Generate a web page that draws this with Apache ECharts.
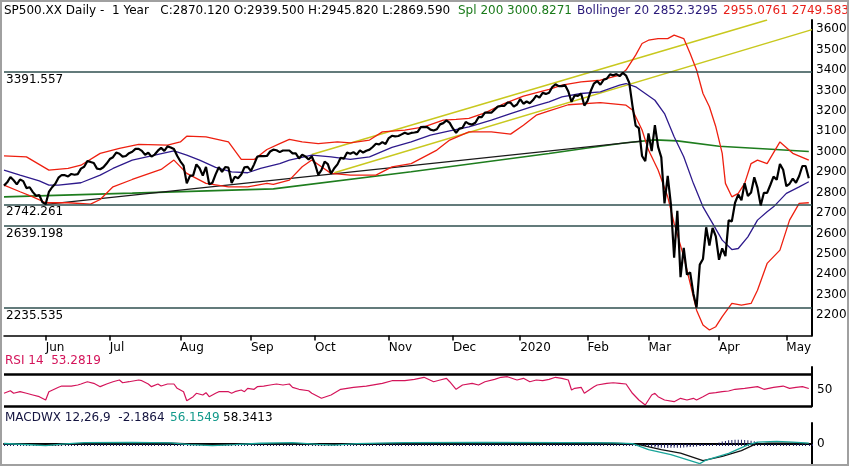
<!DOCTYPE html>
<html><head><meta charset="utf-8">
<script src="https://cdn.jsdelivr.net/npm/echarts@6/dist/echarts.min.js"></script>
<style>html,body{margin:0;padding:0;background:#fff}#c{width:850px;height:470px}</style>
</head><body><div id="c"></div><script>
// ---- data ----
const monthNames = ['May','Jun','Jul','Aug','Sep','Oct','Nov','Dec','2020','Feb','Mar','Apr','May'];
const closeMay2019 = [2834,2850,2876,2860,2840,2864,2856,2822,2826,2802,2784,2788,2752];
const closeJun2019 = [2744,2803,2826,2843,2873,2886,2885,2879,2891,2887,2890,2917,2926,2954,2950,2945,2917,2914,2924,2942];
const closeJul2019 = [2964,2973,2996,2990,2976,2979,2993,3000,3014,3014,3004,2985,2995,2976,2986,3005,3019,3004,3026,3021,3013,2980];
const closeAug2019 = [2953,2932,2845,2882,2884,2938,2919,2883,2926,2840,2848,2889,2924,2901,2925,2922,2847,2878,2870,2888,2924,2926];
const closeSep2019 = [2906,2938,2976,2979,2978,2979,3001,3010,3007,2998,3006,3006,3006,2992,2992,2967,2985,2977,2962,2977];
const closeOct2019 = [2940,2887,2910,2952,2939,2893,2919,2938,2970,2966,2996,2990,2998,2986,3007,2996,3005,3010,3023,3039,3036,3047,3038];
const closeNov2019 = [3067,3078,3075,3077,3085,3093,3087,3092,3094,3097,3120,3122,3120,3108,3104,3110,3134,3140,3153,3141];
const closeDec2019 = [3114,3093,3113,3117,3146,3136,3133,3142,3169,3169,3191,3192,3191,3206,3221,3224,3224,3240,3240,3221,3231];
const closeJan2020 = [3258,3235,3246,3237,3253,3275,3265,3288,3283,3289,3317,3330,3321,3321,3326,3295,3244,3276,3273,3284,3226];
const closeFeb2020 = [3249,3298,3334,3346,3328,3352,3358,3379,3374,3380,3370,3386,3373,3338,3226,3128,3116,2979,2954];
const closeMar2020 = [3090,3003,3130,3024,2972,2747,2882,2741,2481,2711,2386,2529,2398,2409,2305,2237,2447,2475,2630,2541,2627,2585];
const closeApr2020 = [2471,2527,2489,2664,2659,2750,2790,2762,2846,2783,2800,2875,2823,2737,2799,2798,2837,2878,2863,2940,2912];
const closeMay2020 = [2831,2843,2868,2848,2881,2930,2930,2870];
const closeByMonth = [closeMay2019,closeJun2019,closeJul2019,closeAug2019,closeSep2019,closeOct2019,closeNov2019,closeDec2019,closeJan2020,closeFeb2020,closeMar2020,closeApr2020,closeMay2020];

// overlays as [trading-day index, value]
const upperBand = [[0,2980],[7,2975],[14,2910],[20,2918],[24,2934],[30,2992],[36,3016],[42,3036],[51,3032],[55,3048],[57,3076],[63,3073],[70,3048],[74,2962],[78,2962],[82,3011],[86,3040],[89,3060],[93,3048],[98,3040],[104,3048],[108,3043],[114,3057],[118,3097],[125,3106],[131,3122],[137,3155],[141,3158],[145,3163],[150,3190],[156,3236],[162,3272],[170,3305],[174,3326],[180,3342],[186,3350],[192,3375],[194,3400],[197,3473],[199,3530],[201,3546],[204,3554],[207,3554],[209,3571],[212,3554],[214,3481],[216,3400],[218,3285],[220,3220],[222,3122],[224,2992],[225,2845],[227,2779],[229,2796],[231,2845],[233,2942],[235,2959],[238,2942],[242,3048],[246,2992],[251,2959]];
const middleBand = [[0,2910],[5,2885],[11,2857],[14,2836],[17,2836],[24,2848],[30,2885],[34,2918],[40,2959],[47,2983],[53,3004],[57,2983],[61,2959],[66,2923],[71,2901],[76,2897],[80,2918],[86,2942],[89,2959],[96,2983],[102,2975],[108,2962],[114,2975],[121,3021],[127,3048],[133,3081],[139,3102],[145,3122],[152,3155],[158,3187],[164,3217],[170,3244],[174,3269],[180,3285],[186,3293],[192,3326],[194,3334],[197,3318],[200,3285],[203,3252],[206,3187],[209,3073],[212,2975],[215,2845],[218,2730],[221,2649],[224,2567],[227,2521],[229,2526],[232,2583],[235,2665],[238,2706],[240,2730],[244,2796],[248,2828],[251,2853]];
const lowerBand = [[0,2836],[5,2804],[9,2779],[13,2750],[20,2750],[27,2743],[30,2766],[34,2828],[40,2864],[49,2913],[53,2959],[57,2894],[63,2845],[70,2828],[76,2828],[82,2845],[84,2840],[89,2861],[93,2926],[96,2959],[99,2926],[102,2894],[108,2885],[116,2885],[121,2926],[127,2942],[135,3008],[139,3057],[145,3097],[152,3097],[158,3086],[162,3130],[166,3179],[170,3200],[176,3230],[186,3240],[194,3228],[196,3204],[199,3106],[201,3008],[204,2910],[207,2779],[209,2649],[212,2486],[214,2355],[216,2224],[218,2151],[220,2127],[222,2143],[224,2192],[227,2257],[230,2249],[233,2257],[235,2322],[238,2453],[242,2518],[245,2665],[248,2747],[251,2750]];
const sma200 = [[0,2779],[40,2797],[84,2818],[127,2902],[170,2991],[182,3018],[194,3044],[203,3058],[210,3053],[223,3027],[238,3013],[251,3001]];
const trendLine = [[13,2742],[199,3052]];
const channelUpper = [[96,2986],[238,3645]];
const channelLower = [[103,2897],[252,3598]];
const levels = [3391.557, 2742.261, 2639.198, 2235.535];
const priceTicks = [2200,2300,2400,2500,2600,2700,2800,2900,3000,3100,3200,3300,3400,3500,3600];

const rsi = [[0,44.4],[2,49.2],[3,44.4],[5,47.4],[7,44.4],[9,41.2],[11,38],[13,31.8],[14,47.4],[17,55.6],[18,58],[21,58],[23,60],[24,61.8],[26,66.1],[28,63.1],[30,56.8],[32,61.8],[34,66.1],[36,69.3],[37,64.2],[39,66.1],[42,69.3],[43,68],[45,61.8],[46,56.8],[48,61.8],[49,58],[51,61.8],[53,61.8],[54,53.7],[56,47.4],[57,30.5],[59,38],[60,44.4],[62,41.2],[63,45.5],[64,38],[66,44.4],[67,47.4],[70,47.4],[71,44.4],[72,47.4],[74,50.5],[75,47.4],[76,53.7],[78,51.9],[79,56.8],[81,58],[83,60],[85,61.8],[87,60],[89,61.8],[90,55.6],[92,51.9],[95,49.2],[96,44.4],[99,35],[102,41.2],[105,51.9],[109,55.6],[113,58],[118,63.1],[121,68],[125,68],[128,70.6],[131,74.4],[134,66.1],[136,69.3],[138,72.5],[139,66.1],[141,51.9],[143,60],[146,63.1],[148,60],[150,66.1],[153,70.6],[155,74.4],[157,75.5],[160,69.3],[162,72.5],[164,66.1],[166,69.3],[168,68],[170,70.6],[172,74.4],[174,72.5],[176,69.3],[177,50.5],[178,53.7],[180,55.6],[181,44.4],[184,56.8],[185,60],[188,63.1],[190,64.2],[192,63.1],[194,61.8],[196,44.4],[198,31.8],[200,22.4],[201,31.8],[202,41.2],[203,44.4],[204,38],[206,31.8],[209,28.7],[211,35],[213,31.8],[215,35],[216,31.8],[218,38],[220,44.4],[222,45.5],[224,47.4],[226,48.7],[228,51.9],[231,53.7],[235,56.8],[237,51.9],[240,55.6],[243,58],[245,53.7],[247,55.6],[249,56.8],[251,53.3]];
const rsiLevels = [80, 20];

const macdLine = [[0,5],[8,-8],[13,-18],[18,-2],[25,14],[40,18],[52,12],[58,-6],[65,-16],[72,-6],[80,8],[90,14],[98,-4],[103,-12],[110,4],[125,14],[150,16],[175,14],[190,12],[196,4],[201,-60],[208,-112],[217,-205],[219,-168],[226,-98],[232,-10],[235,20],[241,27],[246,20],[251,10]];
const signalLine = [[0,4],[15,-8],[30,10],[50,12],[65,-8],[80,4],[100,-5],[115,4],[140,12],[185,12],[197,2],[205,-60],[211,-95],[218,-175],[224,-130],[230,-70],[234,-7],[238,10],[246,10],[251,3]];
const histogram = [[199,-10],[200,-20],[201,-28],[202,-32],[203,-35],[204,-38],[205,-40],[206,-40],[207,-42],[208,-40],[209,-40],[210,-38],[211,-38],[212,-36],[213,-34],[214,-32],[215,-30],[216,-26],[217,-22],[218,-18],[223,15],[224,25],[225,32],[226,38],[227,42],[228,45],[229,45],[230,45],[231,42],[232,40],[233,35],[234,28],[235,20]];

// ---- build categories ----
const categories = [], close = [], monthStart = new Set();
closeByMonth.forEach((arr, m) => {
  arr.forEach((v, d) => {
    if (d === 0 && m > 0) monthStart.add(categories.length);
    categories.push(monthNames[m] + '|' + m + '|' + d);
    close.push(v);
  });
});
categories.push('|end|0');

const FONT = '"DejaVu Sans", Verdana, sans-serif';
const chart = echarts.init(document.getElementById('c'), null, {renderer: 'canvas'});
const lineBase = {type: 'line', showSymbol: false, symbol: 'none', silent: true, animation: false};

const option = {
  animation: false,
  backgroundColor: '#fff',
  grid: [
    {left: 4, top: 20, width: 808, height: 315.5},
    {left: 4, top: 367, width: 808, height: 39.3},
    {left: 4, top: 423, width: 808, height: 42}
  ],
  xAxis: [
    {gridIndex: 0, type: 'category', data: categories, boundaryGap: false,
      axisLine: {show: true, lineStyle: {color: '#000', width: 1.5}},
      axisTick: {show: true, length: 5, lineStyle: {color: '#000', width: 1.5}, interval: (i) => monthStart.has(i)},
      axisLabel: {interval: (i) => monthStart.has(i), formatter: (v) => v.split('|')[0], align: 'left', margin: 6,
        color: '#000', fontSize: 12, fontFamily: FONT},
      splitLine: {show: false}},
    {gridIndex: 1, type: 'category', data: categories, boundaryGap: false,
      axisLine: {show: false}, axisTick: {show: false}, axisLabel: {show: false}, splitLine: {show: false}},
    {gridIndex: 2, type: 'category', data: categories, boundaryGap: false,
      axisLine: {show: true, onZero: true, lineStyle: {color: '#000', width: 2}},
      axisTick: {show: true, interval: 0, length: 2, inside: false, lineStyle: {color: '#202060', width: 1}},
      axisLabel: {show: false}, splitLine: {show: false}}
  ],
  yAxis: [
    {gridIndex: 0, type: 'value', position: 'right', min: 2100, max: 3645, interval: 100,
      axisLine: {show: true, lineStyle: {color: '#000', width: 2}}, axisTick: {show: false},
      axisLabel: {margin: 4, color: '#000', fontSize: 12, fontFamily: FONT,
        formatter: (v) => priceTicks.includes(v) ? String(v) : ''},
      splitLine: {show: false}},
    {gridIndex: 1, type: 'value', position: 'right', min: 20, max: 93.7, interval: 30,
      axisLine: {show: true, lineStyle: {color: '#000', width: 2}}, axisTick: {show: false},
      axisLabel: {margin: 5, color: '#000', fontSize: 12, fontFamily: FONT, formatter: (v) => v === 50 ? '50' : ''},
      splitLine: {show: false}},
    {gridIndex: 2, type: 'value', position: 'right', min: -220, max: 220, interval: 220,
      axisLine: {show: true, lineStyle: {color: '#000', width: 2}}, axisTick: {show: false},
      axisLabel: {margin: 5, color: '#000', fontSize: 12, fontFamily: FONT, formatter: (v) => v === 0 ? '0' : ''},
      splitLine: {show: false}}
  ],
  series: [
    Object.assign({}, lineBase, {name: 'channelUpper', data: channelUpper, z: 2,
      lineStyle: {color: '#c8c81e', width: 1.5}}),
    Object.assign({}, lineBase, {name: 'channelLower', data: channelLower, z: 2,
      lineStyle: {color: '#c8c81e', width: 1.5}}),
    Object.assign({}, lineBase, {name: 'sma200', data: sma200, z: 3,
      lineStyle: {color: '#1e7d1e', width: 1.6}}),
    Object.assign({}, lineBase, {name: 'trend', data: trendLine, z: 3,
      lineStyle: {color: '#1a1a1a', width: 1.3}}),
    Object.assign({}, lineBase, {name: 'upper', data: upperBand, z: 3,
      lineStyle: {color: '#ee2010', width: 1.3}}),
    Object.assign({}, lineBase, {name: 'lower', data: lowerBand, z: 3,
      lineStyle: {color: '#ee2010', width: 1.3}}),
    Object.assign({}, lineBase, {name: 'middle', data: middleBand, z: 3,
      lineStyle: {color: '#2e1a8c', width: 1.3}}),
    Object.assign({}, lineBase, {name: 'close', data: close, z: 5,
      lineStyle: {color: '#000', width: 2.2},
      markLine: {silent: true, symbol: ['none', 'none'], precision: 3, animation: false,
        lineStyle: {color: '#2f4f4f', width: 1.5, type: 'solid'},
        label: {show: true, position: 'insideStartBottom', distance: [2, 2], color: '#000', fontSize: 12, fontFamily: FONT,
          formatter: (p) => Number(p.value).toFixed(3)},
        data: levels.map(v => ({yAxis: v}))}}),
    Object.assign({}, lineBase, {name: 'rsi', xAxisIndex: 1, yAxisIndex: 1, data: rsi, z: 3,
      lineStyle: {color: '#d4145a', width: 1.2},
      markLine: {silent: true, symbol: ['none', 'none'], animation: false,
        lineStyle: {color: '#000', width: 2.5, type: 'solid'}, label: {show: false},
        data: rsiLevels.map(v => ({yAxis: v}))}}),
    {type: 'bar', name: 'hist', xAxisIndex: 2, yAxisIndex: 2, data: histogram, barWidth: 1, silent: true,
      itemStyle: {color: '#202060'}, z: 2},
    Object.assign({}, lineBase, {name: 'signal', xAxisIndex: 2, yAxisIndex: 2, data: signalLine, z: 3,
      lineStyle: {color: '#111', width: 1.3}}),
    Object.assign({}, lineBase, {name: 'macd', xAxisIndex: 2, yAxisIndex: 2, data: macdLine, z: 3,
      lineStyle: {color: '#1aa59a', width: 1.3}})
  ],
  graphic: [
    {type: 'rect', silent: true, z: 100, shape: {x: 1, y: 1, width: 847, height: 464},
      style: {fill: 'none', stroke: '#a0a0a0', lineWidth: 2}},
    {type: 'text', silent: true, x: 4, y: 11, style: {text: 'SP500.XX Daily -  1 Year   C:2870.120 O:2939.500 H:2945.820 L:2869.590', fill: '#000', font: '12px ' + FONT, verticalAlign: 'middle'}},
    {type: 'text', silent: true, x: 458, y: 11, style: {text: 'Spl 200 3000.8271', fill: '#1a7a1a', font: '12px ' + FONT, verticalAlign: 'middle'}},
    {type: 'text', silent: true, x: 577, y: 11, style: {text: 'Bollinger 20 2852.3295', fill: '#2a1a7a', font: '12px ' + FONT, verticalAlign: 'middle'}},
    {type: 'text', silent: true, x: 723, y: 11, style: {text: '2955.0761 2749.583', fill: '#e8201a', font: '12px ' + FONT, verticalAlign: 'middle'}},
    {type: 'text', silent: true, x: 5, y: 361, style: {text: 'RSI 14  53.2819', fill: '#d4145a', font: '12px ' + FONT, verticalAlign: 'middle'}},
    {type: 'text', silent: true, x: 5, y: 418, style: {text: 'MACDWX 12,26,9  -2.1864', fill: '#141440', font: '12px ' + FONT, verticalAlign: 'middle'}},
    {type: 'text', silent: true, x: 170, y: 418, style: {text: '56.1549', fill: '#149a8c', font: '12px ' + FONT, verticalAlign: 'middle'}},
    {type: 'text', silent: true, x: 223, y: 418, style: {text: '58.3413', fill: '#000', font: '12px ' + FONT, verticalAlign: 'middle'}}
  ]
};
chart.setOption(option);
</script></body></html>
